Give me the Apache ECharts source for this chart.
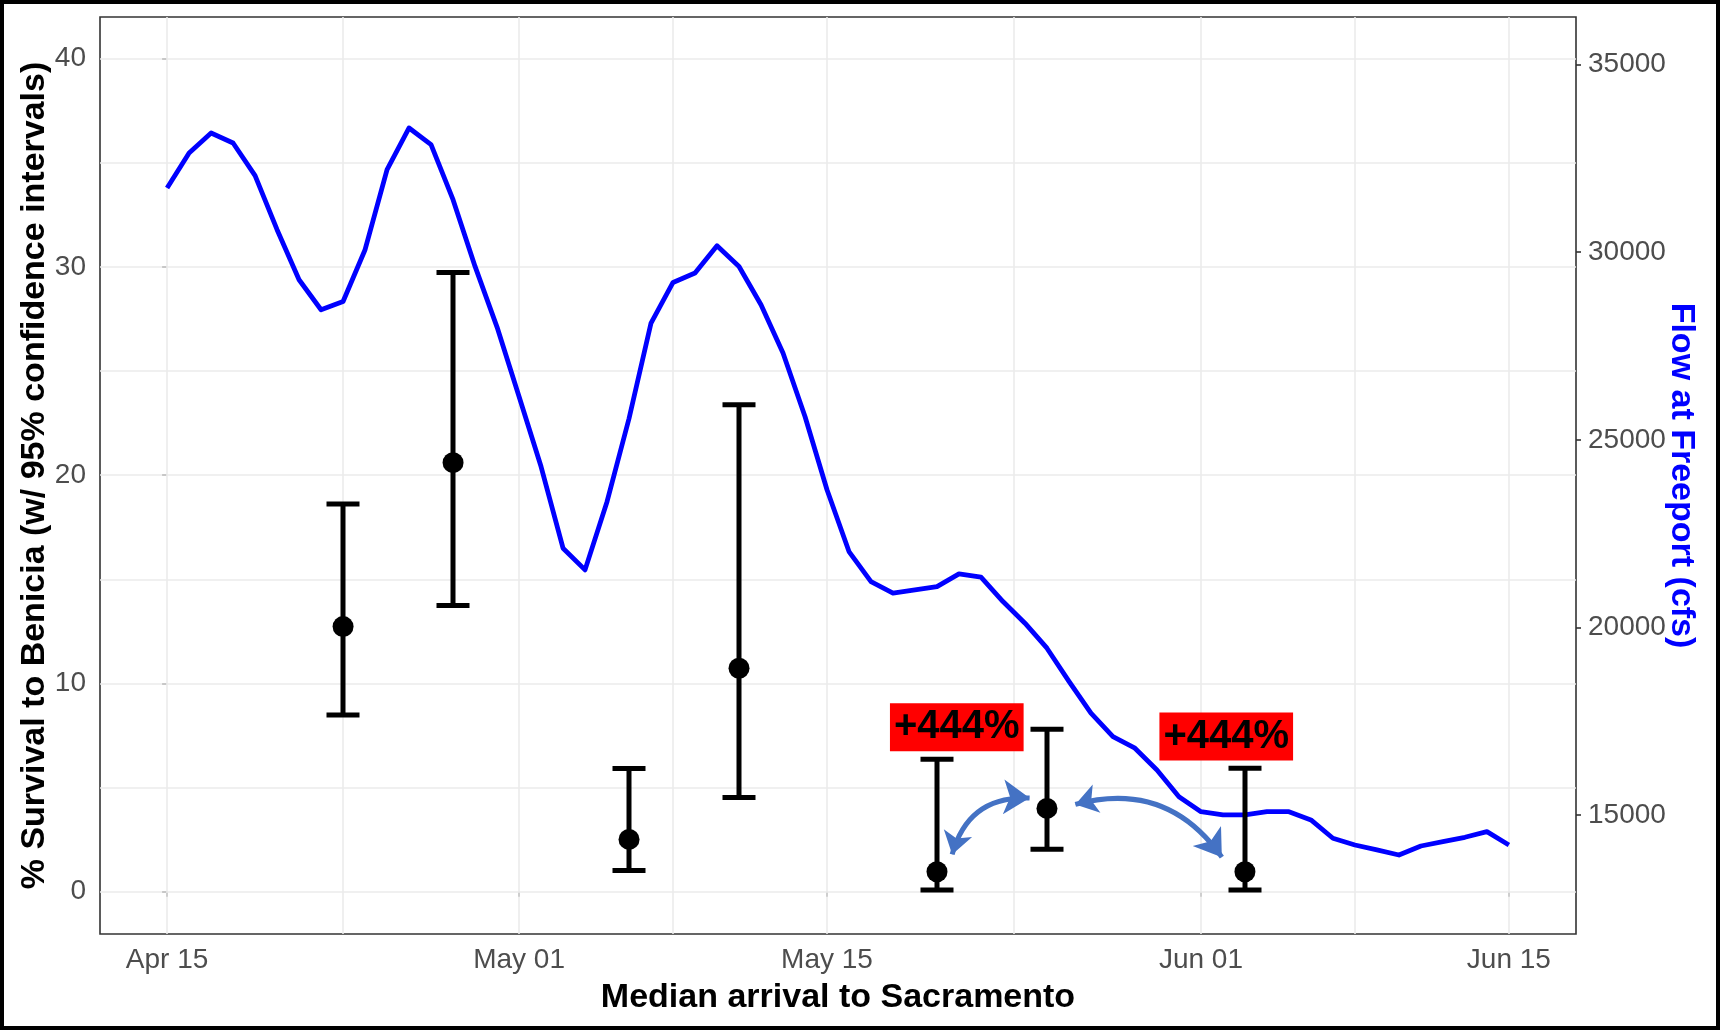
<!DOCTYPE html>
<html>
<head>
<meta charset="utf-8">
<script src="https://cdn.jsdelivr.net/npm/echarts@6/dist/echarts.min.js"></script>
<style>
html,body{margin:0;padding:0;background:#fff;}
#chart{width:1720px;height:1030px;}
</style>
</head>
<body>
<div id="chart"></div>
<script>
// ---------------- data ----------------
const flowStartDate = 'Apr 15';
// daily flow at Freeport (cfs), Apr 15 .. Jun 15
const flowCfs = [31712, 32645, 33179, 32912, 32040, 30600, 29267, 28467, 28688, 30067,
  32200, 33312, 32867, 31400, 29621, 28005, 26155, 24288, 22111, 21533,
  23350, 25568, 28112, 29195, 29445, 30173, 29621, 28600, 27312, 25621,
  23667, 22021, 21221, 20912, 21000, 21088, 21427, 21339, 20688, 20112,
  19445, 18560, 17712, 17088, 16779, 16200, 15488, 15088, 15000, 15000,
  15088, 15088, 14867, 14379, 14200, 14067, 13933, 14173, 14288, 14405,
  14555, 14200];

const releaseDates = ['Apr 23', 'Apr 28', 'May 06', 'May 11', 'May 20', 'May 25', 'Jun 03'];
const survivalPct = [12.73, 20.6, 2.51, 10.73, 0.96, 4.0, 0.96];
const ciLower     = [8.48, 13.74, 1.02, 4.52, 0.08, 2.04, 0.08];
const ciUpper     = [18.62, 29.73, 5.92, 23.38, 6.36, 7.8, 5.93];

const xTickLabels = ['Apr 15', 'May 01', 'May 15', 'Jun 01', 'Jun 15'];
const yLeftTicks  = [0, 10, 20, 30, 40];
const yRightTicks = [15000, 20000, 25000, 30000, 35000];

// annotation labels (position in data units: day offset from Apr 15, % survival)
const annotText = ['+444%', '+444%'];
const annotDay  = [35.9, 48.15];
const annotPct  = [7.9, 7.45];

// curved double arrows: [day1, pct1, day2, pct2]
const arrowCoords = [
  [35.69, 1.79, 39.21, 4.50],
  [41.29, 4.19, 47.95, 1.66]
];
const arrowCurve = [0.4, 0.35];

// ---------------- helpers ----------------
const MONTHS = {Jan:0,Feb:1,Mar:2,Apr:3,May:4,Jun:5,Jul:6,Aug:7,Sep:8,Oct:9,Nov:10,Dec:11};
function toUTC(s){ const [m,d] = s.split(' '); return Date.UTC(2000, MONTHS[m], parseInt(d,10)); }
const t0 = toUTC(flowStartDate);
function dayOf(s){ return Math.round((toUTC(s) - t0) / 86400000); }

const xTickDays = xTickLabels.map(dayOf);
const xMinorDays = [];
for (let i = 0; i < xTickDays.length - 1; i++) xMinorDays.push((xTickDays[i] + xTickDays[i+1]) / 2);
const yMinor = [];
for (let i = 0; i < yLeftTicks.length - 1; i++) yMinor.push((yLeftTicks[i] + yLeftTicks[i+1]) / 2);

const flowData = flowCfs.map((v, i) => [i, v]);
const pointData = survivalPct.map((v, i) => [dayOf(releaseDates[i]), v]);
const barData = survivalPct.map((v, i) => [dayOf(releaseDates[i]), ciLower[i], ciUpper[i]]);

const xSpan = xTickDays[xTickDays.length-1] - xTickDays[0];
const xMin = xTickDays[0] - 0.05 * xSpan;
const xMax = xTickDays[xTickDays.length-1] + 0.05 * xSpan;

const FONT = '"Liberation Sans", Arial, Helvetica, sans-serif';
const GRID_COLOR = '#EBEBEB';

const gridLines = [];
xTickDays.concat(xMinorDays).forEach(d => gridLines.push({xAxis: d}));
yLeftTicks.concat(yMinor).forEach(v => gridLines.push({yAxis: v}));

const chart = echarts.init(document.getElementById('chart'), null, {renderer: 'canvas'});

const option = {
  animation: false,
  backgroundColor: '#ffffff',
  graphic: [{
    type: 'rect', z: 100, silent: true,
    shape: {x: 2, y: 2, width: 1716, height: 1026},
    style: {fill: 'none', stroke: '#000', lineWidth: 4}
  }],
  grid: {
    left: 100, right: 144, top: 17, bottom: 96,
    outerBoundsMode: 'none', containLabel: false,
    show: true, borderColor: '#333333', borderWidth: 1.6, backgroundColor: 'transparent'
  },
  xAxis: [{
    type: 'value', min: xMin, max: xMax,
    name: 'Median arrival to Sacramento', nameLocation: 'middle', nameGap: 47, nameMoveOverlap: false,
    nameTextStyle: {fontFamily: FONT, fontSize: 34, fontWeight: 'bold', color: '#000'},
    axisLine: {show: false},
    axisTick: {show: true, length: 5, customValues: xTickDays, lineStyle: {color: '#333', width: 1.6}},
    axisLabel: {
      customValues: xTickDays, margin: 12,
      fontFamily: FONT, fontSize: 28, color: '#4D4D4D',
      formatter: v => { const k = xTickDays.indexOf(Math.round(v)); return k >= 0 ? xTickLabels[k] : ''; }
    },
    splitLine: {show: false}
  }],
  yAxis: [{
    type: 'value', min: -2.03, max: 42.0, position: 'left',
    name: '% Survival to Benicia (w/ 95% confidence intervals)', nameLocation: 'middle', nameGap: 48, nameRotate: 90,
    nameMoveOverlap: false,
    nameTextStyle: {fontFamily: FONT, fontSize: 34, fontWeight: 'bold', color: '#000'},
    axisLine: {show: false},
    axisTick: {show: true, length: 5, customValues: yLeftTicks, lineStyle: {color: '#333', width: 1.6}},
    axisLabel: {customValues: yLeftTicks, margin: 14, fontFamily: FONT, fontSize: 28, color: '#4D4D4D',
      formatter: v => String(Math.round(v))},
    splitLine: {show: false}
  }, {
    type: 'value', min: 11827, max: 36270, position: 'right',
    name: 'Flow at Freeport (cfs)', nameLocation: 'middle', nameGap: 88, nameRotate: -90,
    nameMoveOverlap: false,
    nameTextStyle: {fontFamily: FONT, fontSize: 34, fontWeight: 'bold', color: '#0000FF'},
    axisLine: {show: false},
    axisTick: {show: true, length: 5, customValues: yRightTicks, lineStyle: {color: '#333', width: 1.6}},
    axisLabel: {customValues: yRightTicks, margin: 12, fontFamily: FONT, fontSize: 28, color: '#4D4D4D',
      formatter: v => String(Math.round(v))},
    splitLine: {show: false}
  }],
  series: [
    {
      name: 'gridlines', type: 'line', xAxisIndex: 0, yAxisIndex: 0, z: 1,
      data: [[xTickDays[0], yLeftTicks[0]]], showSymbol: false, symbol: 'none',
      lineStyle: {width: 0, opacity: 0}, silent: true,
      markLine: {
        z: 1, zlevel: 0,
        silent: true, symbol: ['none', 'none'], label: {show: false},
        lineStyle: {color: GRID_COLOR, width: 1.6, type: 'solid', opacity: 1},
        emphasis: {disabled: true},
        data: gridLines
      }
    },
    {
      name: 'Flow at Freeport', type: 'line', xAxisIndex: 0, yAxisIndex: 1, z: 2,
      data: flowData, showSymbol: false, symbol: 'none',
      lineStyle: {color: '#0000FF', width: 4.8, join: 'round', opacity: 1},
      silent: true
    },
    {
      name: 'CI', type: 'custom', xAxisIndex: 0, yAxisIndex: 0, z: 3,
      data: barData, silent: true,
      renderItem: function (params, api) {
        const x = api.value(0);
        const lo = api.coord([x, api.value(1)]);
        const hi = api.coord([x, api.value(2)]);
        const cx = Math.round(lo[0]);
        const half = api.size([1.5, 0])[0] / 2;
        const st = {stroke: '#000', lineWidth: 5, fill: 'none'};
        return {
          type: 'group',
          children: [
            {type: 'line', shape: {x1: cx, y1: lo[1], x2: cx, y2: hi[1]}, style: st},
            {type: 'line', shape: {x1: cx-half, y1: lo[1], x2: cx+half, y2: lo[1]}, style: st},
            {type: 'line', shape: {x1: cx-half, y1: hi[1], x2: cx+half, y2: hi[1]}, style: st}
          ]
        };
      }
    },
    {
      name: 'Survival', type: 'scatter', xAxisIndex: 0, yAxisIndex: 0, z: 4,
      data: pointData, symbol: 'circle', symbolSize: 21,
      itemStyle: {color: '#000', opacity: 1}, silent: true
    },
    {
      name: 'arrows', type: 'lines', coordinateSystem: 'cartesian2d', xAxisIndex: 0, yAxisIndex: 0, z: 5,
      silent: true, polyline: false,
      symbol: ['arrow', 'arrow'], symbolSize: [22, 26],
      data: arrowCoords.map((a, i) => ({
        coords: [[a[0], a[1]], [a[2], a[3]]],
        lineStyle: {curveness: arrowCurve[i], color: '#4472C4', width: 5, opacity: 1}
      })),
      lineStyle: {color: '#4472C4', width: 5, opacity: 1}
    },
    {
      name: 'annotations', type: 'scatter', xAxisIndex: 0, yAxisIndex: 0, z: 6,
      data: annotText.map((t, i) => ({value: [annotDay[i], annotPct[i]], name: t})),
      symbolSize: 1, itemStyle: {color: 'rgba(0,0,0,0)', opacity: 1}, silent: true,
      label: {
        show: true, position: 'inside', formatter: p => p.name, opacity: 1,
        fontFamily: FONT, fontSize: 40, fontWeight: 'bold', color: '#000',
        backgroundColor: '#FF0000', padding: [3, 4, 1, 4], lineHeight: 44
      }
    }
  ]
};
chart.setOption(option);
</script>
</body>
</html>
